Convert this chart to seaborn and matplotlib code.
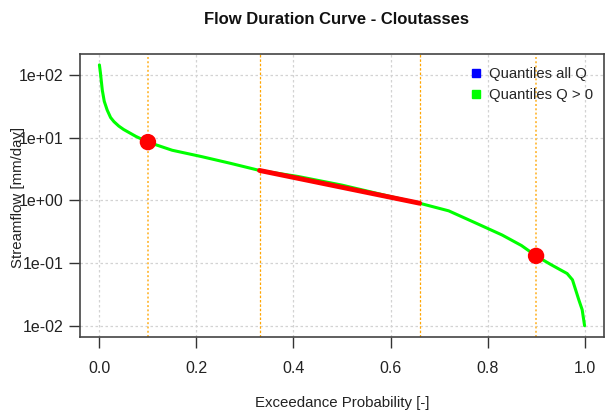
import matplotlib
matplotlib.use("Agg")
import matplotlib.pyplot as plt
from matplotlib.lines import Line2D
import seaborn as sns
import pandas as pd

# Data
prob = [0.0, 0.002, 0.006, 0.01, 0.016, 0.023, 0.03, 0.04, 0.05, 0.075, 0.1, 0.15,
        0.21, 0.27, 0.33, 0.41, 0.5, 0.6, 0.66, 0.72, 0.78, 0.83, 0.87, 0.9,
        0.93, 0.95, 0.964, 0.975, 0.988, 0.995, 1.0]
flow = [145, 110, 57, 38, 27.6, 21, 18, 15.3, 13.5, 10.5, 8.5, 6.3,
        5.0, 3.9, 3.0, 2.4, 1.75, 1.15, 0.9, 0.68, 0.42, 0.28, 0.19, 0.13,
        0.095, 0.078, 0.068, 0.054, 0.026, 0.018, 0.01]
seg_x = [0.33, 0.66]
seg_y = [3.0, 0.9]
pt_x = [0.1, 0.9]
pt_y = [8.5, 0.13]
qlines_outer = [0.1, 0.9]
qlines_inner = [0.33, 0.66]
xticks = [0.0, 0.2, 0.4, 0.6, 0.8, 1.0]
yticks = [0.01, 0.1, 1, 10, 100]
ytick_labels = ["1e-02", "1e-01", "1e+00", "1e+01", "1e+02"]
legend_labels = ["Quantiles all Q", "Quantiles Q > 0"]
legend_colors = ["#0000FF", "#00FF00"]

sns.set_theme(style="white")
plt.rcParams['font.family'] = ['Liberation Sans', 'DejaVu Sans']

fig = plt.figure(figsize=(6.08, 4.16), dpi=100)
ax = fig.add_axes([80/608, 1 - 337/416, 524/608, 283/416])

ax.set_yscale("log")
ax.set_xlim(-0.04, 1.04)
ax.set_ylim(10**-2.18, 10**2.335)

# grid
for xt in xticks:
    ax.axvline(xt, color="#D3D3D3", lw=0.9, ls=(0, (2, 2)), zorder=0)
for yt in yticks:
    ax.axhline(yt, color="#D3D3D3", lw=0.9, ls=(0, (2, 2)), zorder=0)
for q in qlines_outer:
    ax.axvline(q, color="#FFC04C", lw=1.4, ls=(0, (1, 1.2)), zorder=1)
for q in qlines_inner:
    ax.axvline(q, color="#FFA500", lw=0.9, ls=(0, (2, 1.5)), zorder=1)

df = pd.DataFrame({"prob": prob, "flow": flow})
sns.lineplot(data=df, x="prob", y="flow", ax=ax, color="#00FF00", lw=2.2, zorder=3)
sns.lineplot(x=seg_x, y=seg_y, ax=ax, color="#FF0000", lw=3.5, zorder=4)
sns.scatterplot(x=pt_x, y=pt_y, ax=ax, color="#FF0000", s=140, edgecolor="none", zorder=5)

ax.set_xticks(xticks)
ax.set_xticklabels([f"{v:.1f}" for v in xticks])
ax.set_yticks(yticks)
ax.set_yticklabels(ytick_labels)
ax.minorticks_off()
ax.tick_params(axis="both", which="major", length=8, width=1, color="#333333",
               labelsize=11.5, labelcolor="#222222", direction="out", left=True, bottom=True)
ax.tick_params(axis="x", pad=9)
ax.tick_params(axis="y", pad=4)

for s in ax.spines.values():
    s.set_color("#444444")
    s.set_linewidth(1.2)

ax.set_xlabel("Exceedance Probability [-]", fontsize=10.8, color="#222222", labelpad=15)
ax.set_ylabel("")
fig.text(18/608, 1 - 197/416, "Streamflow [mm/day]", rotation=90, ha="center", va="center",
         fontsize=10.8, color="#222222")
fig.text(337/608, 1 - 19/416, "Flow Duration Curve - Cloutasses", ha="center", va="center",
         fontsize=12, fontweight="bold", color="#111111")

handles = [Line2D([0], [0], marker="s", color="none", markerfacecolor=c, markeredgecolor=c,
                  markersize=6) for c in legend_colors]
ax.legend(handles, legend_labels, loc="upper right", frameon=False, fontsize=10.7,
          handletextpad=0.3, borderaxespad=0.3, labelspacing=0.45, handlelength=1.2,
          bbox_to_anchor=(1.0, 0.99))

fig.savefig("out.png", dpi=100)
